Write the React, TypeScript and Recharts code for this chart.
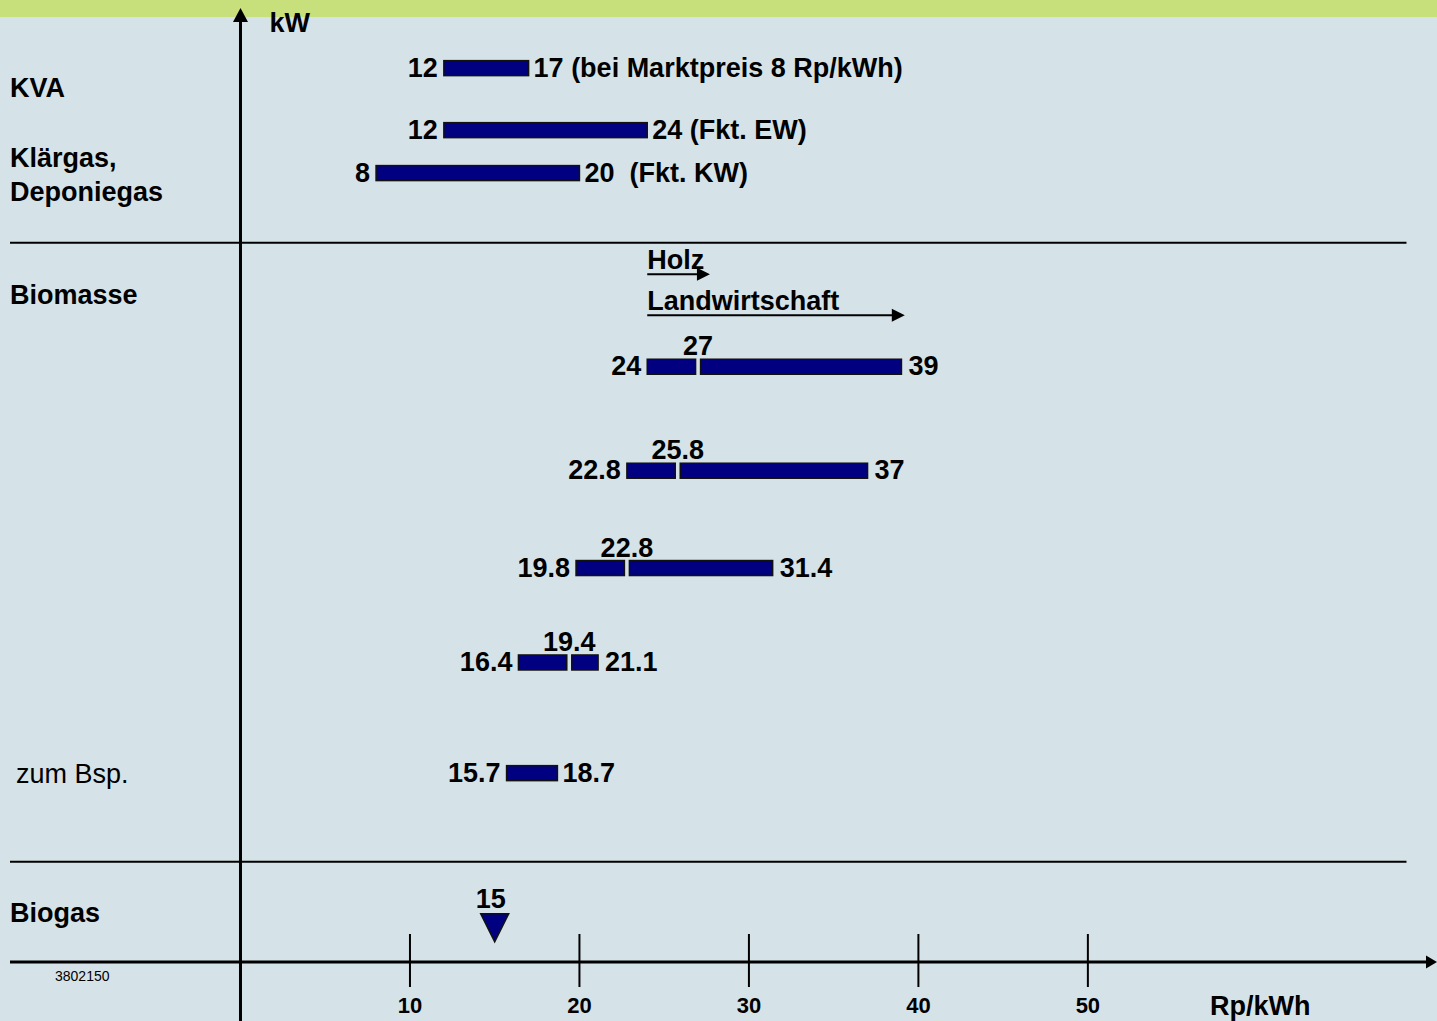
import React from "react";
import { Bar, ComposedChart, ReferenceLine, Scatter, XAxis, YAxis } from "recharts";

const FONT = "'Liberation Sans', Arial, Helvetica, sans-serif";
const NAVY = "#000080";
const INK = "#000000";

// Gestehungskosten in Rp/kWh per Anlagetyp (Zahlen von der Folie)
const rowNames = ["KVA", "Klärgas EW", "Klärgas KW", "Biomasse A", "Biomasse B", "Biomasse C", "Biomasse D", "Biomasse Bsp."];
const rowLevels = [93.7, 87.2, 82.7, 62.4, 51.5, 41.3, 31.4, 19.8]; // Lage auf der kW-Achse (ohne Skala)
const rowFrom = [12, 12, 8, 24, 22.8, 19.8, 16.4, 15.7];
const rowSplit: (number | null)[] = [null, null, null, 27, 25.8, 22.8, 19.4, null];
const rowTo = [17, 24, 20, 39, 37, 31.4, 21.1, 18.7];
const rowNotes = ["(bei Marktpreis 8 Rp/kWh)", "(Fkt. EW)", " (Fkt. KW)", "", "", "", "", ""];

const priceTicks = [10, 20, 30, 40, 50];
const priceDomain: [number, number] = [-13.6, 70.6];
const kwDomain: [number, number] = [0, 100];

const groupNames = ["KVA", "Klärgas,|Deponiegas", "Biomasse", "zum Bsp.", "Biogas"];
const groupLevels = [91.6, 82.5, 69.9, 19.7, 5.1];

const sectionBreaks = [75.4, 10.5];
const sectionEnd = 68.8;

const streamNames = ["Holz", "Landwirtschaft"];
const streamFrom = [24, 24];
const streamTo = [27.7, 39.2];
const streamLevels = [72.1, 67.8];

const biogasPrice = [15];
const biogasLevel = [3.9];

const barData = rowNames.map((name, i) => ({
  name,
  level: rowLevels[i],
  from: rowFrom[i],
  split: rowSplit[i],
  to: rowTo[i],
  note: rowNotes[i],
  offset: rowFrom[i],
  first: (rowSplit[i] ?? rowTo[i]) - rowFrom[i],
  second: rowSplit[i] == null ? 0 : rowTo[i] - (rowSplit[i] as number),
}));

const biogasData = biogasPrice.map((price, i) => ({ price, level: biogasLevel[i] }));

const FS = 27;
const txt = { fontFamily: FONT, fontWeight: 700, fontSize: FS, fill: INK };

function segment(part: "first" | "second") {
  return (props: any) => {
    const { x, y, width, height, payload } = props;
    if (!width || width <= 0) return <g />;
    const hasSplit = payload.split != null;
    let x0 = x;
    let w = width;
    if (hasSplit && part === "first") w -= 2.5;
    if (hasSplit && part === "second") {
      x0 += 2.5;
      w -= 2.5;
    }
    const base = y + height + 1;
    const endText = payload.note ? `${payload.to} ${payload.note}` : `${payload.to}`;
    return (
      <g>
        <rect x={x0} y={y} width={w} height={height} fill={NAVY} stroke="#111" strokeWidth={1.5} />
        {part === "first" && (
          <text x={x - 6} y={base} textAnchor="end" {...txt}>
            {payload.from}
          </text>
        )}
        {part === "first" && !hasSplit && (
          <text x={x + width + 5} y={base} style={{ whiteSpace: "pre" }} {...txt}>
            {endText}
          </text>
        )}
        {part === "second" && (
          <>
            <text x={x} y={y - 4} textAnchor="middle" {...txt}>
              {payload.split}
            </text>
            <text x={x + width + 7} y={base} {...txt}>
              {endText}
            </text>
          </>
        )}
      </g>
    );
  };
}

function streamArrow(label: string) {
  return (p: any) => {
    const { x1, y1, x2, y2 } = p;
    return (
      <g>
        <line x1={x1} y1={y1} x2={x2 - 10} y2={y2} stroke={INK} strokeWidth={2} />
        <polygon points={`${x2},${y2} ${x2 - 13},${y2 - 6.5} ${x2 - 13},${y2 + 6.5}`} fill={INK} />
        <text x={x1} y={y1 - 5} {...txt}>
          {label}
        </text>
      </g>
    );
  };
}

const yAxisShape = (p: any) => {
  const { x1, y1, y2 } = p;
  const top = Math.min(y1, y2);
  const bottom = Math.max(y1, y2);
  return (
    <g>
      <line x1={x1} y1={bottom} x2={x1} y2={top + 10} stroke={INK} strokeWidth={3} />
      <polygon points={`${x1},${top} ${x1 - 7.5},${top + 14} ${x1 + 7.5},${top + 14}`} fill={INK} />
      <text x={x1 + 29} y={top + 24} {...txt}>
        kW
      </text>
    </g>
  );
};

const xAxisShape = (p: any) => {
  const { x1, y1, x2 } = p;
  return (
    <g>
      <line x1={x1} y1={y1} x2={x2 - 8} y2={y1} stroke={INK} strokeWidth={3} />
      <polygon points={`${x2},${y1} ${x2 - 11},${y1 - 6.5} ${x2 - 11},${y1 + 6.5}`} fill={INK} />
      <text x={x2 - 227} y={y1 + 53} {...txt}>
        Rp/kWh
      </text>
      <text x={x1 + 45} y={y1 + 19} fontFamily={FONT} fontSize={14} fill={INK}>
        3802150
      </text>
    </g>
  );
};

const PriceTick = (p: any) => {
  const { x, y, payload } = p;
  return (
    <g>
      <line x1={x} y1={y - 28} x2={x} y2={y + 25} stroke={INK} strokeWidth={2} />
      <text x={x} y={y + 51} textAnchor="middle" fontFamily={FONT} fontWeight={700} fontSize={22} fill={INK}>
        {payload.value}
      </text>
    </g>
  );
};

const GroupTick = (p: any) => {
  const { x, y, payload } = p;
  const i = groupLevels.indexOf(payload.value);
  const name = groupNames[i] ?? "";
  const lines = name.split("|");
  if (name === "zum Bsp.") {
    return (
      <text x={x + 6} y={y + 9} fontFamily={FONT} fontSize={FS} fill={INK}>
        {name}
      </text>
    );
  }
  const start = y + 9 - ((lines.length - 1) * 34) / 2;
  return (
    <text x={x} y={start} {...txt}>
      {lines.map((l, k) => (
        <tspan key={k} x={x} y={start + k * 34}>
          {l}
        </tspan>
      ))}
    </text>
  );
};

const triangle = (p: any) => {
  const { cx, cy, payload } = p;
  return (
    <g>
      <polygon
        points={`${cx - 14},${cy - 11} ${cx + 14},${cy - 11} ${cx},${cy + 17}`}
        fill={NAVY}
        stroke="#111"
        strokeWidth={1.5}
      />
      <text x={cx - 4} y={cy - 17} textAnchor="middle" {...txt}>
        {payload.price}
      </text>
    </g>
  );
};

export default function App() {
  return (
    <div
      style={{
        position: "absolute",
        left: 0,
        top: 0,
        width: 1437,
        height: 1021,
        background: "#D5E3E9",
        overflow: "hidden",
      }}
    >
      <div style={{ position: "absolute", left: 0, top: 0, width: 1437, height: 17, background: "#C8E07C" }} />
      <div style={{ position: "absolute", left: 0, top: 0 }}>
        <ComposedChart
          width={1437}
          height={1021}
          layout="vertical"
          data={barData}
          margin={{ top: 8, right: 0, bottom: 0, left: 9 }}
        >
          <XAxis
            type="number"
            domain={priceDomain}
            allowDataOverflow
            ticks={priceTicks}
            interval={0}
            axisLine={false}
            tickLine={false}
            tickSize={0}
            tickMargin={0}
            height={59}
            tick={<PriceTick />}
          />
          <XAxis xAxisId="m" type="number" dataKey="price" domain={priceDomain} allowDataOverflow hide />
          <YAxis type="number" dataKey="level" domain={kwDomain} allowDataOverflow reversed hide width={0} />
          <YAxis
            yAxisId="m"
            type="number"
            dataKey="level"
            domain={kwDomain}
            allowDataOverflow
            reversed
            ticks={groupLevels}
            interval={0}
            axisLine={false}
            tickLine={false}
            tickSize={0}
            tickMargin={0}
            width={1}
            tick={<GroupTick />}
          />

          {sectionBreaks.map((lvl) => (
            <ReferenceLine
              key={lvl}
              segment={[
                { x: priceDomain[0], y: lvl },
                { x: sectionEnd, y: lvl },
              ]}
              stroke={INK}
              strokeWidth={2}
              ifOverflow="visible"
            />
          ))}

          <ReferenceLine
            segment={[
              { x: 0, y: -6.2 },
              { x: 0, y: kwDomain[1] },
            ]}
            ifOverflow="visible"
            shape={yAxisShape}
          />
          <ReferenceLine
            segment={[
              { x: priceDomain[0], y: 0 },
              { x: priceDomain[1], y: 0 },
            ]}
            ifOverflow="visible"
            shape={xAxisShape}
          />

          {streamNames.map((name, i) => (
            <ReferenceLine
              key={name}
              segment={[
                { x: streamFrom[i], y: streamLevels[i] },
                { x: streamTo[i], y: streamLevels[i] },
              ]}
              ifOverflow="visible"
              shape={streamArrow(name)}
            />
          ))}

          <Bar dataKey="offset" stackId="r" fill="transparent" barSize={15} isAnimationActive={false} />
          <Bar dataKey="first" stackId="r" barSize={15} shape={segment("first")} isAnimationActive={false} />
          <Bar dataKey="second" stackId="r" barSize={15} shape={segment("second")} isAnimationActive={false} />

          <Scatter
            data={biogasData}
            xAxisId="m"
            yAxisId="m"
            shape={triangle}
            isAnimationActive={false}
          />
        </ComposedChart>
      </div>
    </div>
  );
}
